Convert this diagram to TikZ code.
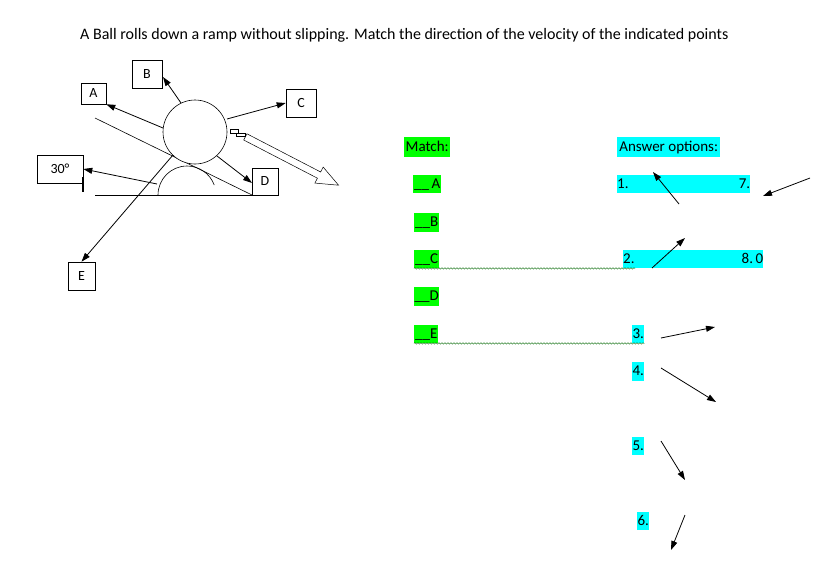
\documentclass[tikz,border=0pt]{standalone}
\usepackage{fontspec}
\setmainfont{Carlito}
\usetikzlibrary{arrows.meta,decorations.pathmorphing}
\definecolor{hg}{RGB}{0,255,0}
\definecolor{hc}{RGB}{0,255,255}
\begin{document}
\begin{tikzpicture}[x=1pt,y=-1pt,
  lbl/.style={draw,line width=0.6pt,fill=white,inner sep=0pt,font=\fontsize{14}{16}\selectfont},
  arr/.style={line width=0.8pt,-{Triangle[length=9pt,width=6pt]}},
  hl/.style={inner sep=0pt,anchor=north west,font=\fontsize{15}{17}\selectfont,text height=11pt,text depth=3pt},
  wavy/.style={draw=black!60!green,line width=0.4pt,decorate,decoration={snake,amplitude=0.8pt,segment length=3pt}}]
\useasboundingbox (0,0) rectangle (827,560);
\node[anchor=west,font=\fontsize{16}{18}\selectfont,inner sep=0pt] (title) at (80,35) {A Ball rolls down a ramp without slipping. Match the direction of the velocity of the indicated points};
% ramp
\coordinate (g1) at (95,195); \coordinate (g2) at (252,195); \coordinate (r1) at (95,118);
\draw[line width=0.6pt] (g1) -- (g2);
\draw[line width=0.6pt] (r1) -- (g2);
\draw[line width=0.6pt] (158,195) arc[start angle=180,end angle=340,radius=29];
\node[circle,draw,line width=0.6pt,fill=white,minimum size=64pt,inner sep=0pt] (ball) at (195,132) {};
% label boxes
\node[lbl,minimum width=25pt,minimum height=21pt] (A) at (93.5,93.5) {A};
\node[lbl,minimum width=30pt,minimum height=28pt] (B) at (147,74) {B};
\node[lbl,minimum width=30pt,minimum height=28pt] (C) at (301,103) {C};
\node[lbl,minimum width=26pt,minimum height=27pt] (D) at (265,181.5) {D};
\node[lbl,minimum width=46pt,minimum height=28pt] (ang) at (60,169) {30°};
\node[lbl,minimum width=27pt,minimum height=28pt] (E) at (81.5,276) {E};
\draw[line width=1.2pt] (83,177) -- (83,192);
% arrows
\coordinate (pa) at (163,128); \coordinate (pb) at (181,103); \coordinate (pc) at (227,119);
\coordinate (pd) at (217,156); \coordinate (pang) at (157,184); \coordinate (pe) at (173,155);
\coordinate (td) at (252,183);
\draw[arr] (pa) -- (A.south east);
\draw[arr] (pb) -- (163,77);
\draw[arr] (pc) -- (C.west);
\draw[arr] (pd) -- (td);
\draw[arr] (pang) -- (ang.east);
\draw[arr] (pe) -- (E.north);
% hollow arrow
\begin{scope}[shift={(232,130)},x={(0.888pt,-0.460pt)},y={(0.460pt,0.888pt)},line width=0.5pt]
  \draw (0,-3.5) rectangle (5,3.5);
  \draw (7,-3.5) rectangle (13,3.5);
  \draw (15,-3.5) -- (98,-3.5) -- (98,-9) -- (120,0) -- (98,9) -- (98,3.5) -- (15,3.5) -- cycle;
\end{scope}
% match column
\node[hl,fill=hg,minimum width=46pt,minimum height=20pt] (match) at (404,137) {Match:};
\node[hl,fill=hg,minimum width=28pt,minimum height=18pt] (mA) at (413,175) {\_\_\,A};
\node[hl,fill=hg,minimum width=25pt,minimum height=19pt] (mB) at (414,213) {\_\_B};
\node[hl,fill=hg,minimum width=25pt,minimum height=18pt] (mC) at (414,250) {\_\_C};
\node[hl,fill=hg,minimum width=25pt,minimum height=19pt] (mD) at (414,287) {\_\_D};
\node[hl,fill=hg,minimum width=24pt,minimum height=18pt] (mE) at (414,325) {\_\_E};
% answers
\node[hl,fill=hc,minimum width=103pt,minimum height=20pt] (ans) at (617,137) {Answer options:};
\node[hl,fill=hc,minimum width=133pt,minimum height=18pt,text width=133pt] (o1) at (617,175) {1.\hfill 7.};
\node[hl,fill=hc,minimum width=140pt,minimum height=18pt,text width=140pt] (o2) at (623,250) {2.\hfill 8.\,0};
\node[hl,fill=hc,minimum width=12pt,minimum height=18pt] (o3) at (632,325) {3.};
\node[hl,fill=hc,minimum width=12pt,minimum height=19pt] (o4) at (632,362) {4.};
\node[hl,fill=hc,minimum width=12pt,minimum height=18pt] (o5) at (632,437) {5.};
\node[hl,fill=hc,minimum width=12pt,minimum height=18pt] (o6) at (637,512) {6.};
% wavy
\draw[wavy] (mC.south west) -- (o2.south west) -- ++(12,0);
\draw[wavy] (mE.south west) -- (o3.south east);
% option arrows
\coordinate (s1) at (679,204); \coordinate (e1) at (653,172);
\coordinate (s7) at (810,178); \coordinate (e7) at (763,196);
\coordinate (s2) at (652,268); \coordinate (e2) at (685,238);
\coordinate (s3) at (661,338); \coordinate (e3) at (715,327);
\coordinate (s4) at (661,368); \coordinate (e4) at (716,402);
\coordinate (s5) at (661,441); \coordinate (e5) at (685,480);
\coordinate (s6) at (685,515); \coordinate (e6) at (671,550);
\foreach \i in {1,7,2,3,4,5,6} \draw[arr] (s\i) -- (e\i);
\end{tikzpicture}
\end{document}
